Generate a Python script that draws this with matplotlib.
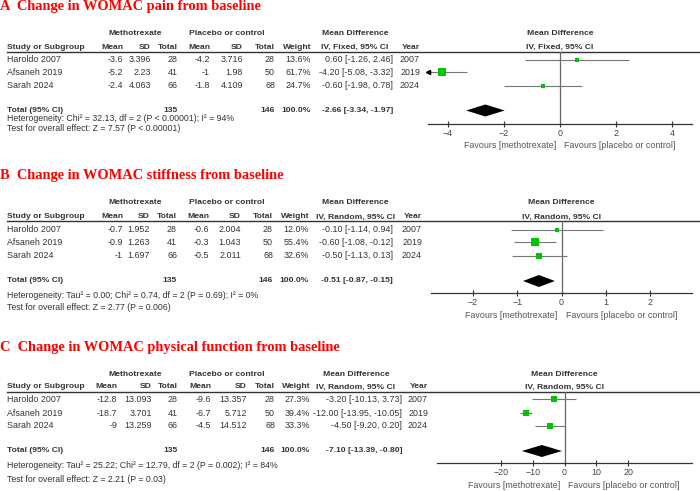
import numpy as np
import matplotlib.pyplot as plt
from matplotlib.patches import Polygon

plt.rcParams['font.family'] = ['Liberation Sans', 'DejaVu Sans']

# ---- data ----
studies = ['Haroldo 2007', 'Afsaneh 2019', 'Sarah 2024']
years = [2007, 2019, 2024]
mtx_n = [28, 41, 66]
ctl_n = [28, 50, 68]

# A: pain
pain_mtx_mean = [-3.6, -5.2, -2.4]
pain_mtx_sd = [3.396, 2.23, 4.063]
pain_ctl_mean = [-4.2, -1, -1.8]
pain_ctl_sd = [3.716, 1.98, 4.109]
pain_weight = [13.6, 61.7, 24.7]
pain_md = [0.60, -4.20, -0.60]
pain_lo = [-1.26, -5.08, -1.98]
pain_hi = [2.46, -3.32, 0.78]
pain_total = [-2.66, -3.34, -1.97]
pain_ticks = [-4, -2, 0, 2, 4]

# B: stiffness
stiff_mtx_mean = [-0.7, -0.9, -1]
stiff_mtx_sd = [1.952, 1.263, 1.697]
stiff_ctl_mean = [-0.6, -0.3, -0.5]
stiff_ctl_sd = [2.004, 1.043, 2.011]
stiff_weight = [12.0, 55.4, 32.6]
stiff_md = [-0.10, -0.60, -0.50]
stiff_lo = [-1.14, -1.08, -1.13]
stiff_hi = [0.94, -0.12, 0.13]
stiff_total = [-0.51, -0.87, -0.15]
stiff_ticks = [-2, -1, 0, 1, 2]

# C: physical function
func_mtx_mean = [-12.8, -18.7, -9]
func_mtx_sd = [13.093, 3.701, 13.259]
func_ctl_mean = [-9.6, -6.7, -4.5]
func_ctl_sd = [13.357, 5.712, 14.512]
func_weight = [27.3, 39.4, 33.3]
func_md = [-3.20, -12.00, -4.50]
func_lo = [-10.13, -13.95, -9.20]
func_hi = [3.73, -10.05, 0.20]
func_total = [-7.10, -13.39, -0.80]
func_ticks = [-20, -10, 0, 10, 20]

panels = [
    dict(title='A  Change in WOMAC pain from baseline', method='IV, Fixed, 95% CI',
         mm=pain_mtx_mean, ms=pain_mtx_sd, cm=pain_ctl_mean, cs=pain_ctl_sd,
         w=pain_weight, md=pain_md, lo=pain_lo, hi=pain_hi, tot=pain_total, ticks=pain_ticks,
         het='Heterogeneity: Chi² = 32.13, df = 2 (P < 0.00001); I² = 94%',
         test='Test for overall effect: Z = 7.57 (P < 0.00001)'),
    dict(title='B  Change in WOMAC stiffness from baseline', method='IV, Random, 95% CI',
         mm=stiff_mtx_mean, ms=stiff_mtx_sd, cm=stiff_ctl_mean, cs=stiff_ctl_sd,
         w=stiff_weight, md=stiff_md, lo=stiff_lo, hi=stiff_hi, tot=stiff_total, ticks=stiff_ticks,
         het='Heterogeneity: Tau² = 0.00; Chi² = 0.74, df = 2 (P = 0.69); I² = 0%',
         test='Test for overall effect: Z = 2.77 (P = 0.006)'),
    dict(title='C  Change in WOMAC physical function from baseline', method='IV, Random, 95% CI',
         mm=func_mtx_mean, ms=func_mtx_sd, cm=func_ctl_mean, cs=func_ctl_sd,
         w=func_weight, md=func_md, lo=func_lo, hi=func_hi, tot=func_total, ticks=func_ticks,
         het='Heterogeneity: Tau² = 25.22; Chi² = 12.79, df = 2 (P = 0.002); I² = 84%',
         test='Test for overall effect: Z = 2.21 (P = 0.03)'),
]

# layout in pixels (y down)
layouts = [
    dict(title=6, grp=33, head=47, line=52, rows=[59.5, 72, 85.5], total=110.5, het=118, test=128,
         axis=124, ax_x=(428, 692), xlim=(-4.7, 4.7),
         cols=[123, 151, 178, 210, 243, 275, 311, 393, 420], ci_c=355),
    dict(title=176, grp=203, head=217, line=221, rows=[229.5, 242, 255.5], total=281, het=295, test=307,
         axis=293, ax_x=(431, 692), xlim=(-2.95, 2.95),
         cols=[123, 150, 177, 209, 241, 273, 309, 393, 422], ci_c=355),
    dict(title=347, grp=374, head=387, line=392, rows=[399, 413, 425.5], total=451, het=466, test=479,
         axis=463, ax_x=(437, 692), xlim=(-40, 40),
         cols=[117, 152, 178, 211, 247, 275, 310, 402, 428], ci_c=356),
]

W, H = 700, 491
fig = plt.figure(figsize=(7, 4.91), dpi=100)
bg = fig.add_axes([0, 0, 1, 1])
bg.set_xlim(0, W)
bg.set_ylim(H, 0)
bg.axis('off')

TC = '#333333'
FS = 6.4
BFS = 6.1


def txt(x, y, s, ha='left', bold=False, size=None, color=TC):
    if size is None:
        size = BFS if bold else FS
    bg.text(x, y, s, ha=ha, va='center', fontsize=size, color=color,
            fontweight='bold' if bold else 'normal')


for p, L in zip(panels, layouts):
    c = L['cols']
    bg.text(0, L['title'], p['title'], ha='left', va='center', fontsize=10.4, color='#ff0000',
            fontweight='bold', family=['Liberation Serif', 'DejaVu Serif'])

    # table header
    txt(135, L['grp'], 'Methotrexate', ha='center', bold=True)
    txt(227, L['grp'], 'Placebo or control', ha='center', bold=True)
    txt(L['ci_c'], L['grp'], 'Mean Difference', ha='center', bold=True)
    txt(7, L['head'], 'Study or Subgroup', bold=True)
    for x, s in zip(c[:7], ['Mean', 'SD', 'Total', 'Mean', 'SD', 'Total', 'Weight']):
        txt(x, L['head'], s, ha='right', bold=True)
    txt(L['ci_c'], L['head'], p['method'], ha='center', bold=True)
    txt(c[8], L['head'], 'Year', ha='right', bold=True)
    bg.plot([7, W], [L['line'], L['line']], color='#333333', lw=1)

    # study rows
    for i, y in enumerate(L['rows']):
        txt(7, y, studies[i])
        vals = [f"{p['mm'][i]:g}", f"{p['ms'][i]:g}", str(mtx_n[i]),
                f"{p['cm'][i]:g}", f"{p['cs'][i]:g}", str(ctl_n[i]),
                f"{p['w'][i]:.1f}%",
                f"{p['md'][i]:.2f} [{p['lo'][i]:.2f}, {p['hi'][i]:.2f}]",
                str(years[i])]
        for x, s in zip(c, vals):
            txt(x, y, s, ha='right')

    # total row
    t = p['tot']
    txt(7, L['total'], 'Total (95% CI)', bold=True)
    txt(c[2], L['total'], str(sum(mtx_n)), ha='right', bold=True)
    txt(c[5], L['total'], str(sum(ctl_n)), ha='right', bold=True)
    txt(c[6], L['total'], f"{sum(p['w']):.1f}%", ha='right', bold=True)
    txt(c[7], L['total'], f"{t[0]:.2f} [{t[1]:.2f}, {t[2]:.2f}]", ha='right', bold=True)
    txt(7, L['het'], p['het'], size=6.3)
    txt(7, L['test'], p['test'], size=6.3)

    # forest plot axes, x in effect units, y in pixels
    x0, x1 = L['ax_x']
    ytop, ybot = L['line'], L['axis']
    ax = fig.add_axes([x0 / W, 1 - ybot / H, (x1 - x0) / W, (ybot - ytop) / H])
    ax.set_xlim(*L['xlim'])
    ax.set_ylim(ybot, ytop)
    ax.patch.set_alpha(0)
    for s in ['top', 'left', 'right']:
        ax.spines[s].set_visible(False)
    ax.spines['bottom'].set_color('#333333')
    ax.spines['bottom'].set_linewidth(0.9)
    ax.set_yticks([])
    ax.set_xticks(p['ticks'])
    ax.tick_params(axis='x', direction='inout', length=5, width=0.8, color='#333333',
                   labelsize=6.4, labelcolor='#444444', pad=1)
    ax.axvline(0, color='#666666', lw=0.9)

    xmin = L['xlim'][0]
    for i, y in enumerate(L['rows']):
        lo = max(p['lo'][i], xmin)
        ax.plot([lo, p['hi'][i]], [y, y], color='#777777', lw=0.8, solid_capstyle='butt')
        if p['lo'][i] < xmin:
            ax.plot([xmin], [y], marker='<', color='black', ms=3, clip_on=False)
        side = 0.98 * np.sqrt(p['w'][i])
        ax.plot([p['md'][i]], [y], marker='s', color='#00c400', ms=side * 0.72, mew=0)

    yt = L['total']
    ax.add_patch(Polygon([[t[1], yt], [t[0], yt - 6], [t[2], yt], [t[0], yt + 6]],
                         closed=True, color='black', lw=0))

    # right-hand header and favours labels
    zx = x0 + (0 - L['xlim'][0]) / (L['xlim'][1] - L['xlim'][0]) * (x1 - x0)
    txt(zx, L['grp'], 'Mean Difference', ha='center', bold=True)
    txt(zx, L['head'], p['method'], ha='center', bold=True)
    fy = L['axis'] + 22
    txt(zx - 4, fy, 'Favours [methotrexate]', ha='right', color='#555555')
    txt(zx + 4, fy, 'Favours [placebo or control]', ha='left', color='#555555')

fig.savefig('out.png', dpi=100, facecolor='white')
